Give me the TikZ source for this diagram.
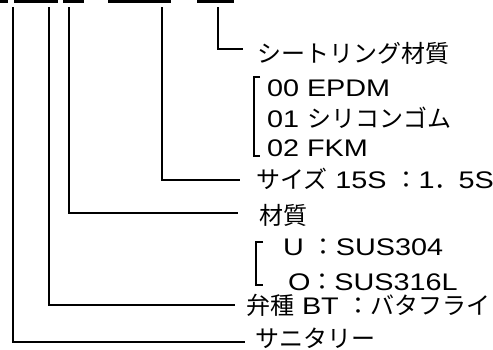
\documentclass[tikz,border=0pt]{standalone}
\usepackage{fontspec}
\setmainfont[FakeStretch=1.2]{Liberation Sans}
\newfontfamily\jp{Noto Sans CJK JP}
\begin{document}
\begin{tikzpicture}[x=1pt,y=-1pt,line width=2pt,
	lbl/.style={anchor=west,inner sep=0pt,font=\fontsize{24}{28}\selectfont},
	brk/.style={line width=1.2pt}]
	\useasboundingbox (0,0) rectangle (493,349);
	% code underlines
	\draw[line width=2.5pt] (0,1.5)--(8,1.5) (14,1.5)--(58,1.5) (63,1.5)--(84,1.5) (108,1.5)--(171,1.5) (197,1.5)--(234,1.5);
	\coordinate (t1) at (13,7);
	\coordinate (t2) at (49,7);
	\coordinate (t3) at (69,7);
	\coordinate (t4) at (162,7);
	\coordinate (t5) at (218,7);
	% labels
	\node[lbl] (seat) at (256,53) {\jp シートリング材質};
	\node[lbl] (s00) at (266,88) {00 EPDM};
	\node[lbl] (s01) at (266,118) {01 {\jp シリコンゴム}};
	\node[lbl] (s02) at (266,148) {02 FKM};
	\node[lbl] (size) at (255,179) {{\jp サイズ} 15S {\jp ：}1{\jp ．}5S};
	\node[lbl] (mat) at (258,215) {\jp 材質};
	\node[lbl] (mU) at (282,247) {U {\jp ：}SUS304};
	\node[lbl] (mO) at (287,282) {O{\jp ：}SUS316L};
	\node[lbl] (type) at (245,305) {{\jp 弁種} BT {\jp ：バタフライ}};
	\node[lbl] (san) at (254,338) {\jp サニタリー};
	% leaders
	\draw (t5) |- ([xshift=-13pt,yshift=4pt]seat.west);
	\draw (t4) |- ([xshift=-15pt,yshift=-1pt]size.west);
	\draw (t3) |- ([xshift=-20pt,yshift=2pt]mat.west);
	\draw (t2) |- ([xshift=-10pt]type.west);
	\draw (t1) |- ([xshift=-9pt,yshift=-4pt]san.west);
	% brackets
	\draw[brk] (260,77) -- (254,77) -- (254,156) -- (260,156);
	\draw[brk] (263,242) -- (256,242) -- (256,285) -- (263,285);
\end{tikzpicture}
\end{document}
